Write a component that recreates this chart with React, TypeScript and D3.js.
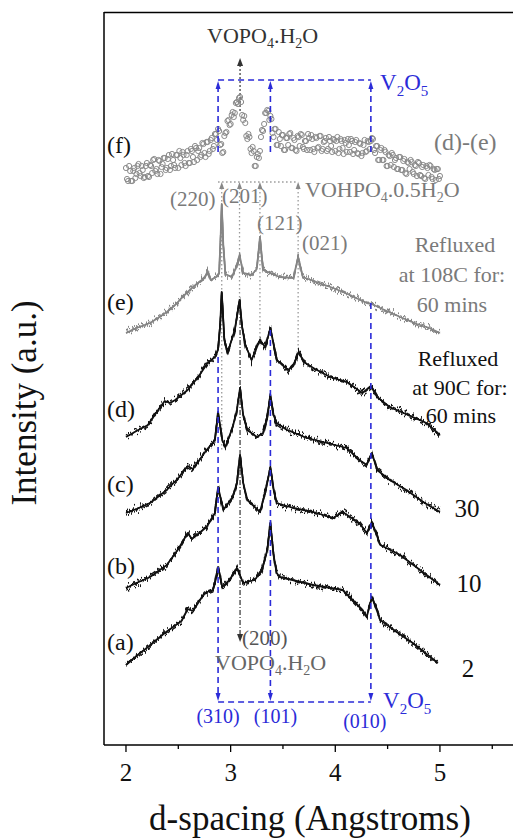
import React from 'react';
import * as d3 from 'd3';

const W = 513;
const H = 838;

// axis ticks
const majorTicks = [2, 3, 4, 5];
const minorTicks = [2.5, 3.5, 4.5, 5.5];

// (f) difference pattern (d)-(e): points at 2.00, 2.02, ... 5.00
const fStart = 2.0;
const fStep = 0.02;
const fValues = [
  577, 564, 574, 564, 577, 571, 581, 569, 575, 568,
  582, 568, 579, 585, 574, 571, 584, 578, 587, 575,
  586, 575, 591, 580, 590, 577, 587, 593, 582, 590,
  582, 596, 588, 599, 585, 597, 590, 601, 588, 603,
  594, 607, 599, 611, 616, 600, 592, 609, 613, 625,
  621, 633, 632, 643, 647, 643, 625, 622, 606, 608,
  592, 594, 579, 591, 594, 615, 621, 632, 634, 629,
  612, 616, 600, 613, 599, 610, 595, 607, 611, 597,
  607, 595, 609, 599, 610, 596, 604, 611, 595, 606,
  593, 607, 598, 609, 596, 604, 594, 608, 599, 606,
  594, 608, 596, 604, 591, 602, 606, 593, 604, 595,
  605, 591, 601, 592, 605, 594, 603, 604, 606, 592,
  599, 585, 597, 585, 593, 579, 589, 592, 578, 587,
  576, 588, 575, 586, 571, 582, 585, 573, 580, 569,
  582, 569, 580, 566, 577, 580, 568, 576, 565, 576,
  569,
];
// (f) points at 2.01, 2.03, ... 4.99
const fStart2 = 2.01;
const fValues2 = [
  566, 579, 564, 574, 567, 579, 572, 579, 567, 579,
  569, 580, 572, 586, 576, 585, 571, 581, 587, 577,
  590, 579, 585, 577, 590, 594, 580, 590, 579, 594,
  582, 594, 583, 597, 594, 588, 602, 592, 603, 591,
  605, 596, 611, 605, 614, 601, 593, 612, 624, 620,
  630, 628, 642, 641, 648, 630, 629, 609, 611, 596,
  598, 579, 588, 587, 608, 614, 632, 635, 625, 626,
  608, 616, 600, 606, 610, 595, 607, 600, 612, 597,
  605, 594, 608, 611, 598, 604, 595, 607, 610, 596,
  608, 597, 609, 594, 603, 607, 596, 604, 593, 605,
  604, 592, 606, 597, 605, 593, 600, 606, 591, 603,
  592, 602, 589, 600, 593, 604, 596, 607, 595, 599,
  585, 595, 585, 595, 579, 590, 580, 590, 585, 576,
  588, 575, 584, 572, 583, 576, 583, 571, 579, 583,
  570, 578, 567, 579, 570, 579, 566, 575, 576, 566,
];

// (e) refluxed at 108C, 60 mins
const curveE: [number, number][] = [
  [2.0, 412], [2.1, 417], [2.23, 422], [2.32, 428], [2.39, 433], [2.47, 440], [2.54, 448],
  [2.64, 458], [2.7, 463], [2.75, 467], [2.78, 474], [2.81, 465], [2.86, 468], [2.89, 472],
  [2.905, 510], [2.915, 541], [2.93, 500], [2.95, 471], [3.01, 468], [3.06, 479],
  [3.085, 490], [3.12, 472], [3.2, 470], [3.25, 476], [3.28, 508], [3.31, 475], [3.4, 471],
  [3.47, 468], [3.6, 467], [3.645, 488], [3.69, 468], [3.82, 463], [3.98, 457], [4.14, 450],
  [4.3, 442], [4.35, 441], [4.45, 436], [4.62, 428], [4.78, 421], [4.9, 417], [5.0, 412],
];

// (d) refluxed at 90C, 60 mins
const curveD: [number, number][] = [
  [2.0, 308], [2.1, 314], [2.21, 320], [2.3, 334], [2.37, 344], [2.42, 342], [2.47, 345],
  [2.59, 355], [2.69, 368], [2.78, 382], [2.85, 388], [2.88, 396], [2.9, 420], [2.915, 453],
  [2.94, 405], [2.97, 392], [3.04, 415], [3.085, 445], [3.11, 418], [3.14, 400], [3.2, 385],
  [3.28, 405], [3.33, 398], [3.38, 417], [3.44, 385], [3.55, 375], [3.6, 380], [3.65, 393],
  [3.7, 383], [3.79, 377], [3.95, 368], [4.11, 363], [4.26, 352], [4.34, 359], [4.4, 348],
  [4.52, 338], [4.63, 333], [4.74, 328], [4.87, 322], [5.0, 310],
];

// (c) 30 mins
const curveC: [number, number][] = [
  [2.0, 232], [2.1, 236], [2.23, 242], [2.39, 255], [2.5, 267], [2.59, 279], [2.64, 276],
  [2.77, 295], [2.85, 305], [2.88, 333], [2.92, 305], [2.95, 298], [3.02, 318], [3.06, 335],
  [3.09, 357], [3.12, 330], [3.16, 315], [3.25, 308], [3.31, 312], [3.35, 328], [3.38, 350],
  [3.41, 330], [3.44, 322], [3.54, 315], [3.73, 307], [3.92, 302], [4.11, 297], [4.23, 285],
  [4.3, 280], [4.35, 292], [4.4, 275], [4.52, 265], [4.68, 255], [4.84, 243], [5.0, 233],
];

// (b) 10 mins
const curveB: [number, number][] = [
  [2.0, 157], [2.1, 162], [2.23, 168], [2.39, 180], [2.5, 196], [2.59, 212], [2.63, 206],
  [2.77, 218], [2.85, 232], [2.88, 258], [2.93, 235], [3.02, 248], [3.06, 262], [3.09, 290],
  [3.12, 262], [3.16, 245], [3.28, 233], [3.33, 252], [3.38, 278], [3.41, 256], [3.44, 242],
  [3.6, 237], [3.79, 233], [3.98, 227], [4.07, 233], [4.23, 222], [4.3, 212], [4.35, 223],
  [4.43, 200], [4.62, 190], [4.81, 175], [5.0, 160],
];

// (a) 2 mins
const curveA: [number, number][] = [
  [2.0, 80], [2.1, 89], [2.21, 98], [2.37, 112], [2.53, 124], [2.59, 136], [2.64, 134],
  [2.75, 152], [2.83, 155], [2.85, 162], [2.88, 178], [2.92, 158], [2.99, 165], [3.06, 177],
  [3.12, 162], [3.23, 165], [3.3, 175], [3.35, 195], [3.38, 222], [3.41, 190], [3.44, 172],
  [3.47, 168], [3.79, 160], [4.07, 155], [4.26, 135], [4.3, 128], [4.35, 148], [4.43, 125],
  [4.6, 112], [4.74, 102], [4.98, 82],
];

// reflection positions (d-spacing, Angstroms)
const v2o5Peaks = [2.88, 3.38, 4.34];
const v2o5Labels = ['(310)', '(101)', '(010)'];
const vohpoPeaks = [2.915, 3.085, 3.28, 3.645];
const vopoPeak = 3.09;

const FONT = 'Liberation Serif, Times New Roman, DejaVu Serif, serif';
const BLUE = '#2b2bd8';
const GRAY = '#7a7a7a';

function NoiseFilter({ id, seed }: { id: string; seed: number }) {
  return (
    <filter
      id={id}
      filterUnits="userSpaceOnUse"
      x={0}
      y={0}
      width={W}
      height={H}
      colorInterpolationFilters="sRGB"
    >
      <feTurbulence type="fractalNoise" baseFrequency="0.7 0.05" numOctaves={2} seed={seed} result="n" />
      <feColorMatrix
        in="n"
        type="matrix"
        values="0 0 0 0 0.5  0 1 0 0 0  0 0 0 0 0  0 0 0 0 1"
        result="m"
      />
      <feDisplacementMap in="SourceGraphic" in2="m" scale={14} xChannelSelector="R" yChannelSelector="G" />
    </filter>
  );
}

export default function App() {
  const x = d3.scaleLinear().domain([1.79, 5.765]).range([104, 520]);
  const y = d3.scaleLinear().domain([0, 733]).range([745, 12]);
  const line = d3
    .line<[number, number]>()
    .x((d) => x(d[0]))
    .y((d) => y(d[1]));

  const fPts: [number, number][] = [
    ...fValues.map((v, i) => [fStart + i * fStep, v] as [number, number]),
    ...fValues2.map((v, i) => [fStart2 + i * fStep, v] as [number, number]),
  ];

  const lines = [
    { data: curveE, color: '#858585' },
    { data: curveD, color: '#111' },
    { data: curveC, color: '#111' },
    { data: curveB, color: '#111' },
    { data: curveA, color: '#111' },
  ];

  const triUp = (cx: number, tip: number, w = 6, h = 8) =>
    `M${cx},${tip}L${cx - w / 2},${tip + h}L${cx + w / 2},${tip + h}Z`;
  const triDown = (cx: number, tip: number, w = 6, h = 8) =>
    `M${cx},${tip}L${cx - w / 2},${tip - h}L${cx + w / 2},${tip - h}Z`;

  // annotation levels (intensity units)
  const blueTopBar = 665;
  const blueTopEnd = 593;
  const blueBotStart = [388, 415, 442];
  const blueBotBar = 43;
  const grayBar = 563;
  const grayEnds = [295, 445, 405, 395];

  const txt = { fontFamily: FONT } as React.CSSProperties;

  return (
    <svg
      width={W}
      height={H}
      style={{ position: 'absolute', left: 0, top: 0, background: '#fff', fontFamily: FONT }}
    >
      <defs>
        <NoiseFilter id="jag1" seed={7} />
        <NoiseFilter id="jag2" seed={23} />
      </defs>

      {/* frame */}
      <line x1={104} x2={104} y1={12} y2={745} stroke="#000" strokeWidth={1.5} />
      <line x1={104} x2={520} y1={12.5} y2={12.5} stroke="#000" strokeWidth={1.5} />
      <line x1={104} x2={520} y1={745} y2={745} stroke="#000" strokeWidth={1.5} />

      {/* ticks */}
      {majorTicks.map((t) => (
        <g key={'M' + t}>
          <line x1={x(t)} x2={x(t)} y1={745} y2={752} stroke="#000" strokeWidth={1.3} />
          <text x={x(t)} y={781} textAnchor="middle" fontSize={25} fill="#111" style={txt}>
            {t}
          </text>
        </g>
      ))}
      {minorTicks.map((t) => (
        <line key={'m' + t} x1={x(t)} x2={x(t)} y1={745} y2={749} stroke="#000" strokeWidth={1.3} />
      ))}

      <text x={310} y={830} textAnchor="middle" fontSize={35} fill="#111" style={txt}>
        d-spacing (Angstroms)
      </text>
      <text
        transform="translate(36,403) rotate(-90)"
        textAnchor="middle"
        fontSize={35}
        fill="#111"
        style={txt}
      >
        Intensity (a.u.)
      </text>

      {/* gray dotted VOHPO4 reference lines */}
      {vohpoPeaks.map((p, i) => (
        <g key={'vh' + p}>
          <line
            x1={x(p)}
            x2={x(p)}
            y1={y(grayBar) + 6}
            y2={y(grayEnds[i])}
            stroke="#999"
            strokeWidth={1.3}
            strokeDasharray="1.5 2.5"
          />
          <path d={triUp(x(p), y(grayBar), 5, 7)} fill="#888" />
        </g>
      ))}
      <line
        x1={x(2.88)}
        x2={x(3.645)}
        y1={y(grayBar)}
        y2={y(grayBar)}
        stroke="#999"
        strokeWidth={1.3}
        strokeDasharray="1.5 2.5"
      />

      {/* black dash-dot VOPO4.H2O line */}
      <line
        x1={x(vopoPeak)}
        x2={x(vopoPeak)}
        y1={y(680)}
        y2={y(633)}
        stroke="#333"
        strokeWidth={1.2}
        strokeDasharray="2 2"
      />
      <path d={triUp(x(vopoPeak), y(687), 6, 8)} fill="#333" />
      <line
        x1={x(vopoPeak)}
        x2={x(vopoPeak)}
        y1={y(445)}
        y2={y(110)}
        stroke="#333"
        strokeWidth={1.2}
        strokeDasharray="5 2 1 2"
      />
      <path d={triDown(x(vopoPeak), y(103), 6, 8)} fill="#333" />

      {/* spectra */}
      {lines.map((l, i) => {
        const d = line(l.data) ?? '';
        return (
          <g key={'c' + i}>
            <path d={d} fill="none" stroke={l.color} strokeWidth={1.8} strokeLinejoin="round" />
            <path d={d} fill="none" stroke={l.color} strokeWidth={1.4} filter="url(#jag1)" />
            <path d={d} fill="none" stroke={l.color} strokeWidth={1.4} filter="url(#jag2)" />
          </g>
        );
      })}

      {/* (f) difference scatter */}
      <g fill="none" stroke="#8a8a8a" strokeWidth={1}>
        {fPts.map((p, i) => (
          <circle key={'f' + i} cx={x(p[0])} cy={y(p[1])} r={2.6} />
        ))}
      </g>

      {/* blue V2O5 lines */}
      {v2o5Peaks.map((p, i) => (
        <g key={'v' + p}>
          <line
            x1={x(p)}
            x2={x(p)}
            y1={y(blueTopBar) + 6}
            y2={y(blueTopEnd)}
            stroke={BLUE}
            strokeWidth={1.6}
            strokeDasharray="6 4"
          />
          <path d={triUp(x(p), y(blueTopBar) + 1, 5, 8)} fill={BLUE} />
          <line
            x1={x(p)}
            x2={x(p)}
            y1={y(blueBotStart[i])}
            y2={y(blueBotBar) - 6}
            stroke={BLUE}
            strokeWidth={1.6}
            strokeDasharray="6 4"
          />
          <path d={triDown(x(p), y(blueBotBar) - 1, 5, 8)} fill={BLUE} />
        </g>
      ))}
      <line
        x1={x(2.88)}
        x2={x(4.34)}
        y1={y(blueTopBar)}
        y2={y(blueTopBar)}
        stroke={BLUE}
        strokeWidth={1.6}
        strokeDasharray="6 4"
      />
      <line
        x1={x(2.88)}
        x2={x(4.34)}
        y1={y(blueBotBar)}
        y2={y(blueBotBar)}
        stroke={BLUE}
        strokeWidth={1.6}
        strokeDasharray="6 4"
      />

      <g style={txt}>
        {/* labels: top */}
        <text x={207} y={43} fontSize={22} fill="#333">
          VOPO<tspan fontSize={14} dy={5}>4</tspan>
          <tspan dy={-5}>.H</tspan>
          <tspan fontSize={14} dy={5}>2</tspan>
          <tspan dy={-5}>O</tspan>
        </text>
        <text x={380} y={90} fontSize={23} fill={BLUE}>
          V<tspan fontSize={15} dy={6}>2</tspan>
          <tspan dy={-6}>O</tspan>
          <tspan fontSize={15} dy={6}>5</tspan>
        </text>
        <text x={305} y={197} fontSize={22} fill={GRAY}>
          VOHPO<tspan fontSize={14} dy={5}>4</tspan>
          <tspan dy={-5}>.0.5H</tspan>
          <tspan fontSize={14} dy={5}>2</tspan>
          <tspan dy={-5}>O</tspan>
        </text>
        <text x={434} y={150} fontSize={24} fill={GRAY}>
          (d)-(e)
        </text>

        {/* hkl labels of VOHPO4 */}
        <g fontSize={21} fill={GRAY}>
          <text x={170} y={206}>(220)</text>
          <text x={222} y={203}>(201)</text>
          <text x={257} y={230}>(121)</text>
          <text x={302} y={250}>(021)</text>
        </g>

        {/* condition texts */}
        <g fontSize={22} fill={GRAY} textAnchor="middle">
          <text x={455} y={252}>Refluxed</text>
          <text x={452} y={282}>at 108C for:</text>
          <text x={452} y={312}>60 mins</text>
        </g>
        <g fontSize={22} fill="#111" textAnchor="middle">
          <text x={458} y={366}>Refluxed</text>
          <text x={460} y={395}>at 90C for:</text>
          <text x={461} y={423}>60 mins</text>
        </g>
        <g fontSize={25} fill="#111" textAnchor="middle">
          <text x={467} y={517}>30</text>
          <text x={469} y={592}>10</text>
          <text x={468} y={677}>2</text>
        </g>

        {/* curve letters */}
        <g fontSize={24} fill="#111">
          <text x={107} y={153}>(f)</text>
          <text x={107} y={310}>(e)</text>
          <text x={107} y={417}>(d)</text>
          <text x={107} y={492}>(c)</text>
          <text x={107} y={574}>(b)</text>
          <text x={107} y={650}>(a)</text>
        </g>

        {/* bottom labels */}
        <text x={242} y={645} fontSize={21} fill="#555">
          (200)
        </text>
        <text x={215} y={670} fontSize={22} fill="#666">
          VOPO<tspan fontSize={14} dy={5}>4</tspan>
          <tspan dy={-5}>.H</tspan>
          <tspan fontSize={14} dy={5}>2</tspan>
          <tspan dy={-5}>O</tspan>
        </text>
        <text x={383} y={708} fontSize={23} fill={BLUE}>
          V<tspan fontSize={15} dy={6}>2</tspan>
          <tspan dy={-6}>O</tspan>
          <tspan fontSize={15} dy={6}>5</tspan>
        </text>
        <g fontSize={20} fill={BLUE} textAnchor="middle">
          {v2o5Peaks.map((p, i) => (
            <text key={'vl' + i} x={x(p) + [0, 5, -6][i]} y={[723, 723, 728][i]}>
              {v2o5Labels[i]}
            </text>
          ))}
        </g>
      </g>
    </svg>
  );
}
